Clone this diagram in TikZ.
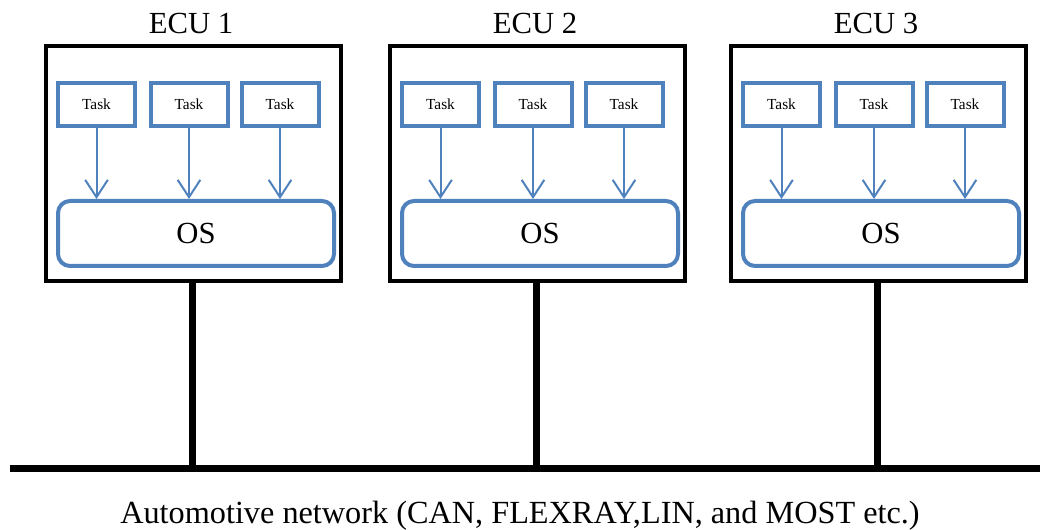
\documentclass[tikz,border=0pt]{standalone}
\usepackage{fontspec}
\setmainfont{Liberation Serif}
\usetikzlibrary{arrows.meta}
\definecolor{taskblue}{HTML}{4F81BD}
\begin{document}
\begin{tikzpicture}[x=0.75pt,y=-0.75pt,
  ecubox/.style={draw=black, line width=3pt, minimum width=221.25pt,
    minimum height=176.25pt, inner sep=0pt},
  ecutitle/.style={font=\fontsize{23}{26}\selectfont, inner sep=0pt},
  taskbox/.style={draw=taskblue, line width=3pt, fill=white, minimum width=57.75pt,
    minimum height=32.25pt, inner sep=0pt, font=\fontsize{11.5}{13}\selectfont},
  osbox/.style={draw=taskblue, line width=3pt, rounded corners=9pt, minimum width=207pt,
    minimum height=48.75pt, inner sep=0pt, font=\fontsize{23}{26}\selectfont},
  flow/.style={draw=taskblue, line width=1.5pt,
    -{Straight Barb[length=13pt, width=17pt, line width=1.5pt]}},
  wire/.style={draw=black, line width=5.25pt},
  caption/.style={font=\fontsize{24.2}{27}\selectfont, inner sep=0pt}]
\useasboundingbox (0,0) rectangle (1040,530);

% network bus
\coordinate (busL) at (10,469);
\coordinate (busR) at (1040,469);
\draw[wire] (busL) -- (busR);

\foreach \i/\L in {1/44, 2/388, 3/729} {
  % ECU frame and title
  \node[ecubox] (ecu\i) at (\L+149.5,163.5) {};
  \node[ecutitle] (title\i) at (\L+147,24) {ECU \i};
  % operating system
  \node[osbox] (os\i) at (\L+152,233.5) {OS};
  % tasks feeding the OS
  \foreach \j/\dx in {1/52.5, 2/145, 3/236} {
    \node[taskbox] (task\i\j) at (\L+\dx,104.5) {Task};
    \draw[flow] (task\i\j.south) -- (task\i\j.south |- os\i.north);
  }
  % connection to the bus
  \coordinate (tap\i) at (\L+148,469);
  \draw[wire] (ecu\i.south -| tap\i) -- (tap\i);
}

\node[caption] (net) at (520,516) {Automotive network (CAN, FLEXRAY,LIN, and MOST etc.)};
\end{tikzpicture}
\end{document}
